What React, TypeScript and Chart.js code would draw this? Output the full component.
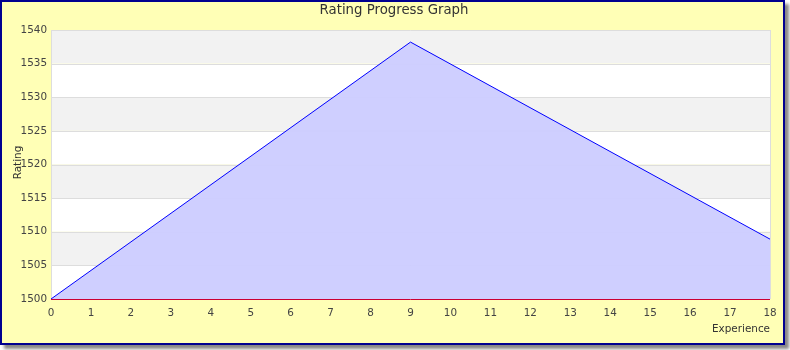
import React, { useEffect, useRef } from "react";
import { Chart, registerables } from "chart.js";

Chart.register(...registerables);

const xValues = [0, 9, 18];
const ratingValues = [1500, 1538.2, 1508.9];
const chartTitle = "Rating Progress Graph";
const yAxisTitle = "Rating";
const xAxisTitle = "Experience";
const yMin = 1500;
const yMax = 1540;
const yStep = 5;
const xMin = 0;
const xMax = 18;

const FONT = "'DejaVu Sans', sans-serif";

const decorPlugin = {
  id: "decor",
  beforeDatasetsDraw(chart: any) {
    const { ctx, chartArea, scales } = chart;
    const y = scales.y;
    ctx.save();
    let idx = 0;
    for (let v = yMax; v > yMin; v -= yStep) {
      const top = y.getPixelForValue(v);
      const bot = y.getPixelForValue(v - yStep);
      ctx.fillStyle = idx % 2 === 0 ? "#F2F2F2" : "#FFFFFF";
      ctx.fillRect(chartArea.left, top, chartArea.right - chartArea.left, bot - top);
      idx++;
    }
    ctx.strokeStyle = "#DDDDDD";
    ctx.lineWidth = 1;
    for (let v = yMin + yStep; v <= yMax; v += yStep) {
      const py = Math.round(y.getPixelForValue(v)) + 0.5;
      ctx.beginPath();
      ctx.moveTo(chartArea.left, py);
      ctx.lineTo(chartArea.right, py);
      ctx.stroke();
    }
    const lx = Math.round(chartArea.left) + 0.5;
    const rx = Math.round(chartArea.right) + 0.5;
    ctx.beginPath();
    ctx.moveTo(lx, chartArea.top);
    ctx.lineTo(lx, chartArea.bottom);
    ctx.moveTo(rx, chartArea.top);
    ctx.lineTo(rx, chartArea.bottom);
    ctx.stroke();
    ctx.restore();
  },
  afterDatasetsDraw(chart: any) {
    const { ctx, chartArea } = chart;
    ctx.save();
    ctx.strokeStyle = "#CC0033";
    ctx.lineWidth = 1;
    const by = Math.round(chartArea.bottom) + 0.5;
    ctx.beginPath();
    ctx.moveTo(chartArea.left, by);
    ctx.lineTo(chartArea.right, by);
    ctx.stroke();
    ctx.restore();
  },
  afterDraw(chart: any) {
    const { ctx, chartArea } = chart;
    ctx.save();
    ctx.fillStyle = "#333333";
    ctx.font = `13.3px ${FONT}`;
    ctx.textAlign = "center";
    ctx.textBaseline = "middle";
    ctx.fillText(chartTitle, 394, 10.5);

    ctx.font = `10.4px ${FONT}`;
    ctx.textAlign = "right";
    ctx.fillText(xAxisTitle, chartArea.right, 329);

    ctx.translate(18, (chartArea.top + chartArea.bottom) / 2 - 2);
    ctx.rotate(-Math.PI / 2);
    ctx.textAlign = "center";
    ctx.fillText(yAxisTitle, 0, 0);
    ctx.restore();
  },
};

export default function App() {
  const ref = useRef<HTMLCanvasElement>(null);
  useEffect(() => {
    document.body.style.margin = "0";
    const canvas = ref.current!;
    const chart = new Chart(canvas, {
      type: "line",
      data: {
        datasets: [
          {
            data: xValues.map((x, i) => ({ x, y: ratingValues[i] })),
            borderColor: "#0000FF",
            borderWidth: 1,
            backgroundColor: "rgba(204,204,255,0.95)",
            fill: "origin",
            pointRadius: 0,
            tension: 0,
          },
        ],
      },
      options: {
        animation: false,
        responsive: false,
        maintainAspectRatio: false,
        layout: { padding: { left: 0, top: 30, right: 20, bottom: 0 } },
        plugins: {
          legend: { display: false },
          tooltip: { enabled: false },
        },
        scales: {
          x: {
            type: "linear",
            min: xMin,
            max: xMax,
            grid: { display: false, drawTicks: false },
            border: { display: false },
            ticks: {
              stepSize: 1,
              color: "#444444",
              font: { family: FONT, size: 10.4 },
              padding: 8,
              maxRotation: 0,
              autoSkip: false,
              callback: (v: any) => String(v),
            },
            afterFit(scale: any) {
              scale.height = 51;
            },
          },
          y: {
            min: yMin,
            max: yMax,
            grid: { display: false, drawTicks: false },
            border: { display: false },
            ticks: {
              stepSize: yStep,
              color: "#444444",
              font: { family: FONT, size: 10.4 },
              padding: 4,
              callback: (v: any) => String(v),
            },
            afterFit(scale: any) {
              scale.width = 51;
            },
          },
        },
      },
      plugins: [decorPlugin],
    });
    return () => chart.destroy();
  }, []);

  return (
    <div style={{ position: "relative", width: 790, height: 350 }}>
      <div
        style={{
          position: "absolute",
          left: 0,
          top: 0,
          width: 785,
          height: 345,
          boxSizing: "border-box",
          border: "2px solid #000090",
          background: "#FFFFB6",
          boxShadow: "4px 4px 3px #888888",
        }}
      />
      <canvas
        ref={ref}
        width={790}
        height={350}
        style={{ position: "absolute", left: 0, top: 0, width: 790, height: 350 }}
      />
    </div>
  );
}
